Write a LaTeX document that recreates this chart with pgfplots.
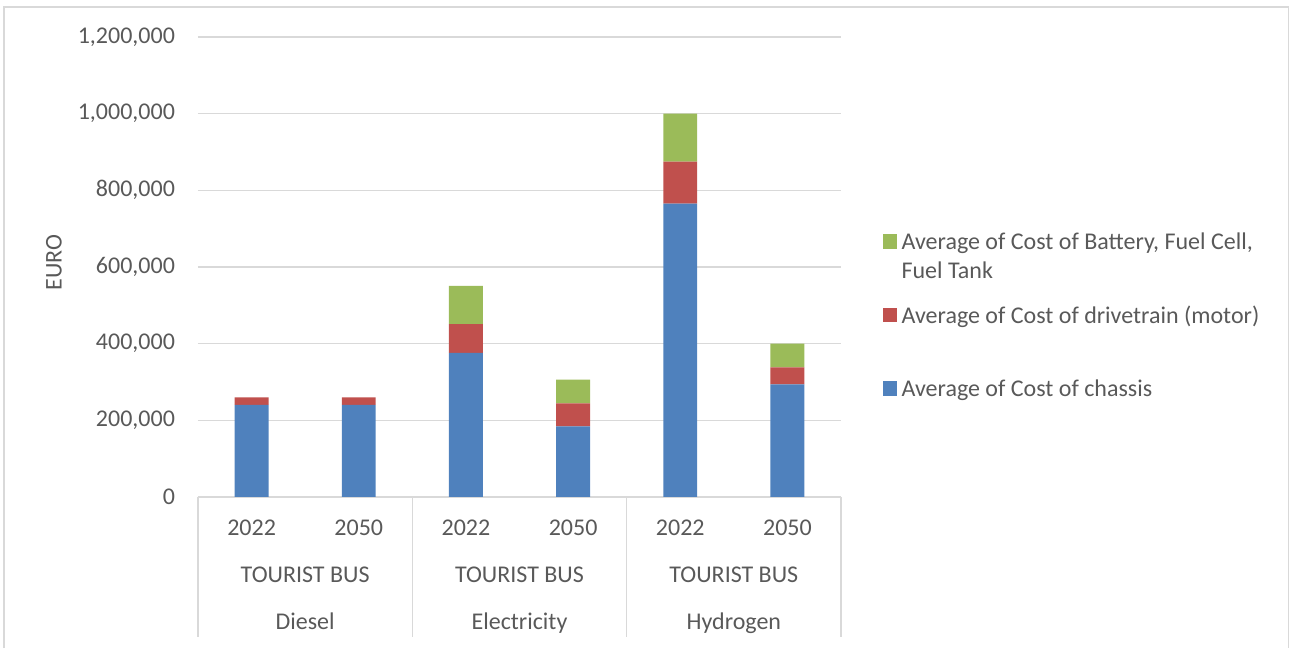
\documentclass[border=0pt]{standalone}
\usepackage{fontspec}
\setmainfont{Carlito}
\usepackage{pgfplots}
\pgfplotsset{compat=1.18}
\definecolor{txt}{HTML}{595959}
\definecolor{gridc}{HTML}{D9D9D9}
\definecolor{cblue}{HTML}{4F81BD}
\definecolor{cred}{HTML}{C0504D}
\definecolor{cgreen}{HTML}{9BBB59}
\newcommand{\lbl}{\fontsize{12}{14.5}\selectfont}

\begin{document}
\begin{tikzpicture}
\useasboundingbox (0,0) rectangle (645pt,324pt);
\draw[gridc, line width=0.8pt] (2pt,0) -- (2pt,320.5pt) -- (644.3pt,320.5pt) -- (644.3pt,0);
\begin{axis}[at={(99pt,75.5pt)}, anchor=south west, scale only axis,
  width=321.5pt, height=230pt,
  ybar stacked, bar width=0.317,
  xmin=-0.5, xmax=5.5, ymin=0, ymax=1200000,
  ytick={0,200000,400000,600000,800000,1000000,1200000},
  scaled y ticks=false,
  yticklabel style={/pgf/number format/fixed, /pgf/number format/precision=0,
    /pgf/number format/1000 sep={,}, /pgf/number format/assume math mode=true},
  xtick={0,...,5}, xticklabels={2022,2050,2022,2050,2022,2050},
  axis x line*=bottom, axis y line*=left,
  y axis line style={draw=none}, x axis line style={gridc, line width=0.8pt},
  major tick length=0pt,
  ymajorgrids, grid style={gridc, line width=0.8pt},
  tick label style={font=\lbl, text=txt},
  yticklabel style={xshift=-8pt},
  xticklabel style={yshift=-8pt},
  ylabel={EURO},
  ylabel style={at={(axis description cs:-0.224,0.51)}, anchor=center, font=\lbl, text=txt},
  clip=false,
  reverse legend,
  legend cell align=left,
  legend image code/.code={\fill[#1] (0pt,-3.5pt) rectangle (7.3pt,3.8pt);},
  legend style={at={(axis description cs:1,0.5724)}, anchor=north west, xshift=20.8pt,
    draw=none, fill=none, inner sep=0pt, outer sep=0pt, row sep=28.8pt,
    font=\lbl, text=txt,
    nodes={inner ysep=0pt, inner xsep=2.2pt, text height=8pt, text depth=0pt,
      text width=188pt, align=flush left}},
]
\addplot[fill=cblue, draw=none] coordinates {(0,240000)(1,240000)(2,376000)(3,184000)(4,765000)(5,294000)};
\addlegendentry{Average of Cost of chassis}
\addplot[fill=cred, draw=none] coordinates {(0,20000)(1,20000)(2,75000)(3,60000)(4,110000)(5,44000)};
\addlegendentry{Average of Cost of drivetrain (motor)}
\addplot[fill=cgreen, draw=none] coordinates {(0,0)(1,0)(2,100000)(3,62000)(4,125000)(5,62000)};
\addlegendentry{Average of Cost of Battery, Fuel Cell, Fuel Tank}
% group separators below the axis
\draw[gridc, line width=0.8pt] (axis cs:-0.5,0) -- ([yshift=-70pt]axis cs:-0.5,0);
\draw[gridc, line width=0.8pt] (axis cs:1.5,0) -- ([yshift=-70pt]axis cs:1.5,0);
\draw[gridc, line width=0.8pt] (axis cs:3.5,0) -- ([yshift=-70pt]axis cs:3.5,0);
\draw[gridc, line width=0.8pt] (axis cs:5.5,0) -- ([yshift=-70pt]axis cs:5.5,0);
% second and third category levels
\node[anchor=base, font=\lbl, text=txt] at ([yshift=-42.6pt]axis cs:0.5,0) {TOURIST BUS};
\node[anchor=base, font=\lbl, text=txt] at ([yshift=-42.6pt]axis cs:2.5,0) {TOURIST BUS};
\node[anchor=base, font=\lbl, text=txt] at ([yshift=-42.6pt]axis cs:4.5,0) {TOURIST BUS};
\node[anchor=base, font=\lbl, text=txt] at ([yshift=-66.4pt]axis cs:0.5,0) {Diesel};
\node[anchor=base, font=\lbl, text=txt] at ([yshift=-66.4pt]axis cs:2.5,0) {Electricity};
\node[anchor=base, font=\lbl, text=txt] at ([yshift=-66.4pt]axis cs:4.5,0) {Hydrogen};
\end{axis}
\end{tikzpicture}
\end{document}
